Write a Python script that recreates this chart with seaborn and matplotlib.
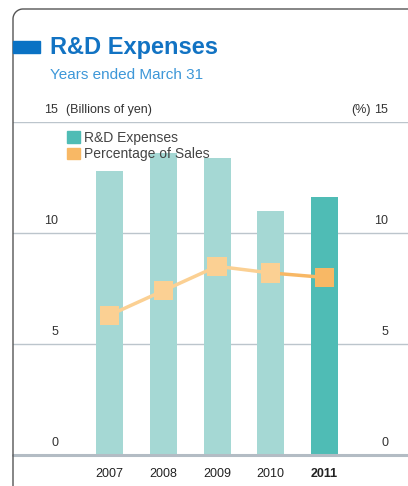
import matplotlib
matplotlib.use("Agg")
import matplotlib.pyplot as plt
import matplotlib.patches as mpatches
from matplotlib.lines import Line2D
import numpy as np
import pandas as pd
import seaborn as sns

# ---- data ----
years = ["2007", "2008", "2009", "2010", "2011"]
rd_expenses = [12.8, 13.6, 13.4, 11.0, 11.6]        # billions of yen
pct_of_sales = [6.3, 7.4, 8.5, 8.2, 8.0]            # %
tick_values = [0, 5, 10, 15]

sns.set_style("white")
plt.rcParams["font.family"] = ["Liberation Sans", "DejaVu Sans"]

W, H = 408, 486
fig = plt.figure(figsize=(W / 100, H / 100), dpi=100)

def fx(px):
    return px / W

def fy(py):
    return 1 - py / H

# axes: 0 at y=455, 15 at y=122 ; spans x 13..408
ax = fig.add_axes([fx(13), fy(455), fx(408) - fx(13), fy(122) - fy(455)])
x_left = -(109.5 - 13) / 53.75
x_right = 4 + (408 - 324.5) / 53.75

bar_light = "#a5d8d4"
bar_dark = "#4fbcb5"
mk_light = "#fbd093"
mk_dark = "#f8b865"
bar_colors = [bar_light] * 4 + [bar_dark]

df = pd.DataFrame({"year": years, "rd": rd_expenses, "pct": pct_of_sales})

# gridlines
for v in tick_values:
    if v == 0:
        ax.axhline(v, color="#b3bcc4", lw=2.2, zorder=5, clip_on=False)
    else:
        ax.axhline(v, color="#bcc5cc", lw=1.0, zorder=1)

sns.barplot(data=df, x="year", y="rd", hue="year", palette=bar_colors,
            width=27 / 53.75, legend=False, ax=ax, saturation=1,
            linewidth=0, edgecolor="none", zorder=2)
ax.set_xlim(x_left, x_right)
ax.set_ylim(0, 15)

xpos = np.arange(len(years))
ax.plot(xpos[:4], pct_of_sales[:4], color=mk_light, lw=2.5, zorder=3)
ax.plot(xpos[3:], pct_of_sales[3:], color=mk_dark, lw=2.5, zorder=3)
sns.scatterplot(x=xpos, y=pct_of_sales, hue=years,
                palette=[mk_light] * 4 + [mk_dark], marker="s", s=190,
                linewidth=0, legend=False, ax=ax, zorder=4)

ax.set_xlabel("")
ax.set_ylabel("")
ax.set_xticks([])
ax.set_yticks([])
for s in ax.spines.values():
    s.set_visible(False)

# tick labels
for v in tick_values:
    yy = 455 - v * (333 / 15) - 12
    fig.text(fx(58), fy(yy), str(v), ha="right", va="center", fontsize=9, color="#333333")
    fig.text(fx(388), fy(yy), str(v), ha="right", va="center", fontsize=9, color="#333333")
fig.text(fx(66), fy(110), "(Billions of yen)", ha="left", va="center", fontsize=9, color="#333333")
fig.text(fx(371), fy(110), "(%)", ha="right", va="center", fontsize=9, color="#333333")

centers = [109.5, 163.3, 217.3, 270.8, 324.5]
for i, yr in enumerate(years):
    fig.text(fx(centers[i]), fy(474), yr, ha="center", va="center", fontsize=9,
             color="#222222", fontweight="bold" if yr == "2011" else "normal")

# legend
handles = [mpatches.Patch(color=bar_dark, label="R&D Expenses"),
           mpatches.Patch(color=mk_dark, label="Percentage of Sales")]
leg = fig.legend(handles=handles, loc="upper left", bbox_to_anchor=(fx(67), fy(131)),
                 frameon=False, fontsize=10, handlelength=0.9, handleheight=0.9,
                 handletextpad=0.36, labelspacing=0.15, borderpad=0, borderaxespad=0)
for t in leg.get_texts():
    t.set_color("#444444")

# title block
fig.patches.append(mpatches.Rectangle((fx(13), fy(53)), fx(40) - fx(13), fy(41) - fy(53),
                                      transform=fig.transFigure, color="#0a72c4", zorder=5))
fig.text(fx(50), fy(47), "R&D Expenses", ha="left", va="center", fontsize=17,
         fontweight="bold", color="#1273c3")
fig.text(fx(50), fy(75), "Years ended March 31", ha="left", va="center", fontsize=11,
         color="#3d97d8")

# frame with rounded top-left corner
r = 10
t = np.linspace(np.pi / 2, np.pi, 20)
cx, cy = 13 + r, 9 + r
arc_x = cx + r * np.cos(t)
arc_y = cy - r * np.sin(t)
fx_pts = [408] + list(arc_x) + [13]
fy_pts = [9] + list(arc_y) + [486]
fig.add_artist(Line2D([fx(p) for p in fx_pts], [fy(p) for p in fy_pts],
                      transform=fig.transFigure, color="#555555", lw=1.0))

fig.savefig("out.png", dpi=100)
